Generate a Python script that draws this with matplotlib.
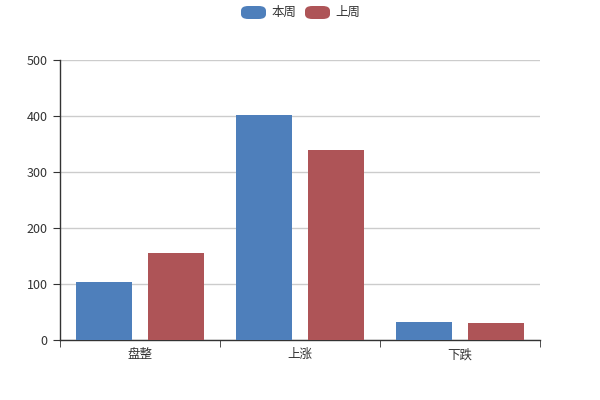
import matplotlib
matplotlib.use("Agg")
import matplotlib.pyplot as plt
from matplotlib.patches import FancyBboxPatch
import numpy as np

plt.rcParams['font.family'] = ['Noto Sans CJK SC', 'DejaVu Sans']

categories = ['盘整', '上涨', '下跌']
this_week = [104, 402, 33]
last_week = [155, 340, 31]
series_names = ['本周', '上周']
colors = ['#4e7fbb', '#ae5457']

fig = plt.figure(figsize=(6, 4), dpi=100)
ax = fig.add_axes([60/600, 60/400, 480/600, 280/400])

x = np.arange(len(categories))
w = 0.35
ax.bar(x - 0.225, this_week, w, color=colors[0], zorder=3)
ax.bar(x + 0.225, last_week, w, color=colors[1], zorder=3)

ax.set_xlim(-0.5, len(categories) - 0.5)
ax.set_ylim(0, 500)
ax.set_yticks(range(0, 501, 100))
ax.set_xticks(x)
ax.set_xticklabels(categories)
ax.set_xticks(np.arange(-0.5, len(categories), 1), minor=True)
ax.tick_params(axis='x', which='major', length=0, pad=6, labelsize=9, colors='#333333')
ax.tick_params(axis='x', which='minor', length=5, direction='out', color='#333333')
ax.tick_params(axis='y', length=5, direction='out', labelsize=9, colors='#333333', pad=4)
ax.grid(axis='y', color='#cccccc', linewidth=1, zorder=0)
for s in ['top', 'right']:
    ax.spines[s].set_visible(False)
for s in ['left', 'bottom']:
    ax.spines[s].set_color('#333333')
    ax.spines[s].set_linewidth(1)

# legend
legend_items = [(241, colors[0], series_names[0]), (305, colors[1], series_names[1])]
for lx, c, name in legend_items:
    p = FancyBboxPatch((lx / 600, 1 - 19 / 400), 25 / 600, 13 / 400,
                       boxstyle='round,pad=0,rounding_size=0.012',
                       transform=fig.transFigure, facecolor=c, edgecolor='none')
    fig.patches.append(p)
    fig.text((lx + 30) / 600, 1 - 12.5 / 400, name, fontsize=9, va='center', ha='left', color='#333333')

fig.savefig('out.png', dpi=100)
